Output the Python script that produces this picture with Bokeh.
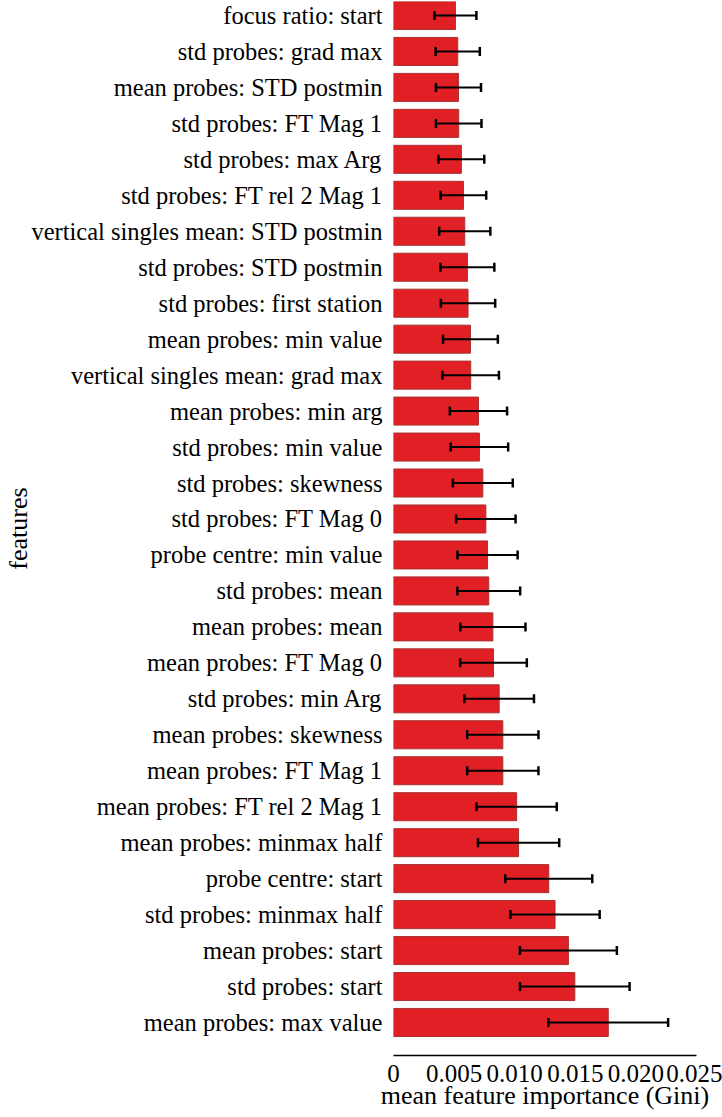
from bokeh.plotting import figure
from bokeh.models import (Range1d, FixedTicker, CustomJSTickFormatter, Whisker,
                          TeeHead, ColumnDataSource)
from bokeh.embed import file_html
from bokeh.resources import INLINE

# features listed top to bottom
features = [
    "focus ratio: start", "std probes: grad max", "mean probes: STD postmin",
    "std probes: FT Mag 1", "std probes: max Arg", "std probes: FT rel 2 Mag 1",
    "vertical singles mean: STD postmin", "std probes: STD postmin",
    "std probes: first station", "mean probes: min value",
    "vertical singles mean: grad max", "mean probes: min arg",
    "std probes: min value", "std probes: skewness", "std probes: FT Mag 0",
    "probe centre: min value", "std probes: mean", "mean probes: mean",
    "mean probes: FT Mag 0", "std probes: min Arg", "mean probes: skewness",
    "mean probes: FT Mag 1", "mean probes: FT rel 2 Mag 1",
    "mean probes: minmax half", "probe centre: start", "std probes: minmax half",
    "mean probes: start", "std probes: start", "mean probes: max value",
]
importance = [
    0.00511, 0.00530, 0.00536, 0.00538, 0.00560, 0.00577, 0.00588, 0.00610,
    0.00615, 0.00635, 0.00637, 0.00701, 0.00709, 0.00737, 0.00762, 0.00776,
    0.00786, 0.00820, 0.00825, 0.00872, 0.00902, 0.00902, 0.01016, 0.01032,
    0.01281, 0.01333, 0.01443, 0.01496, 0.01772,
]
std_dev = [
    0.00173, 0.00182, 0.00186, 0.00188, 0.00189, 0.00188, 0.00211, 0.00222,
    0.00224, 0.00226, 0.00233, 0.00236, 0.00237, 0.00247, 0.00245, 0.00248,
    0.00259, 0.00269, 0.00275, 0.00287, 0.00294, 0.00294, 0.00331, 0.00335,
    0.00359, 0.00368, 0.00400, 0.00452, 0.00494,
]
x_ticks = [0, 0.005, 0.010, 0.015, 0.020, 0.025]

FONT = "Liberation Serif"
FS_CAT = "24.5px"
FS_TICK = "25px"
FS_TITLE = "26px"

n = len(features)
ypos = [n - 1 - i for i in range(n)]
src = ColumnDataSource(dict(
    y=ypos, imp=importance,
    lower=[v - s for v, s in zip(importance, std_dev)],
    upper=[v + s for v, s in zip(importance, std_dev)],
))

p = figure(frame_width=303, frame_height=1054,
           x_range=Range1d(0, 0.025), y_range=Range1d(-0.918, n - 1 + 0.389),
           output_backend="svg", toolbar_location=None,
           min_border_left=393, min_border_right=26,
           min_border_top=1, min_border_bottom=60)

p.hbar(y="y", left=0, right="imp", height=0.78, source=src,
       fill_color="#e02024", line_color="#a83232", line_width=1)

w = Whisker(source=src, base="y", lower="lower", upper="upper",
            dimension="width", line_color="black", line_width=2,
            level="overlay")
w.upper_head = TeeHead(size=9, line_width=2.5, line_color="black")
w.lower_head = TeeHead(size=9, line_width=2.5, line_color="black")
p.add_layout(w)

p.grid.visible = False
p.outline_line_color = None

xa = p.xaxis[0]
xa.ticker = FixedTicker(ticks=x_ticks)
xa.formatter = CustomJSTickFormatter(code="return tick == 0 ? '0' : tick.toFixed(3);")
xa.axis_line_color = "black"
xa.axis_line_width = 1.5
xa.major_tick_out = 0
xa.major_tick_in = 0
xa.minor_tick_out = 0
xa.minor_tick_in = 0
xa.major_tick_line_color = None
xa.minor_tick_line_color = None
xa.major_label_standoff = 9
xa.axis_label = "mean feature importance (Gini)"
xa.axis_label_standoff = -4
xa.major_label_text_font_size = FS_TICK
xa.axis_label_text_font_size = FS_TITLE

ya = p.yaxis[0]
ya.ticker = FixedTicker(ticks=ypos)
ya.major_label_overrides = {y: f for y, f in zip(ypos, features)}
ya.axis_line_color = None
ya.major_tick_out = 0
ya.major_tick_in = 0
ya.minor_tick_out = 0
ya.minor_tick_in = 0
ya.major_tick_line_color = None
ya.minor_tick_line_color = None
ya.major_label_standoff = 11
ya.major_label_text_font_size = FS_CAT
ya.axis_label = "features"
ya.axis_label_standoff = -5
ya.axis_label_text_font_size = FS_TITLE

for ax in (xa, ya):
    ax.major_label_text_font = FONT
    ax.major_label_text_color = "black"
    ax.axis_label_text_font = FONT
    ax.axis_label_text_font_style = "normal"
    ax.axis_label_text_color = "black"

open("out.html", "w").write(file_html(p, INLINE))
